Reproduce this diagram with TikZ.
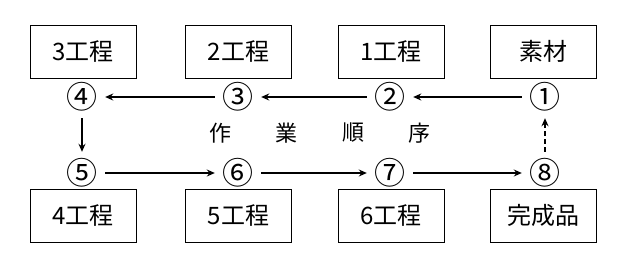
\documentclass[tikz,border=0pt]{standalone}
\usepackage{fontspec}
\setmainfont{Noto Sans CJK JP}
\usepackage{tikz}
\usetikzlibrary{arrows.meta,positioning}
\definecolor{ink}{RGB}{0,0,0}
\tikzset{
  >={Stealth[length=8pt,width=7pt]},
  proc/.style={draw=ink,line width=0.9pt,minimum width=106pt,minimum height=53pt,
    inner sep=0pt,font=\fontsize{24}{26}\selectfont},
  num/.style={minimum width=46pt,minimum height=42pt,inner sep=0pt,
    font=\fontsize{31}{34}\selectfont},
  flow/.style={->,line width=1.6pt,draw=ink},
  flow/.default=ink,
  word/.style={inner sep=0pt,font=\fontsize{22}{24}\selectfont},
}
\begin{document}
\begin{tikzpicture}[x=1pt,y=-1pt]
  \useasboundingbox (0,0) rectangle (629,274);
  % process boxes
  \node[proc] (p3) at (83,51.5) {3工程};
  \node[proc] (p2) at (238.5,51.5) {2工程};
  \node[proc] (p1) at (391,51.5) {1工程};
  \node[proc] (raw) at (543,51.5) {素材};
  \node[proc] (p4) at (83,215.5) {4工程};
  \node[proc] (p5) at (238.5,215.5) {5工程};
  \node[proc] (p6) at (391,216) {6工程};
  \node[proc] (done) at (543,215.5) {完成品};
  % order numbers
  \node[num] (n4) at (82,97) {④};
  \node[num] (n3) at (238,97) {③};
  \node[num] (n2) at (390,97) {②};
  \node[num] (n1) at (545,97) {①};
  \node[num] (n5) at (82,173) {⑤};
  \node[num] (n6) at (238,173) {⑥};
  \node[num] (n7) at (390,173) {⑦};
  \node[num] (n8) at (545,173) {⑧};
  % label
  \node[word] (w1) at (220,133) {作};
  \node[word] (w2) at (286,133) {業};
  \node[word] (w3) at (353,133) {順};
  \node[word] (w4) at (419,133) {序};
  % flow
  \draw[flow] (n1) -- (n2);
  \draw[flow] (n2) -- (n3);
  \draw[flow] (n3) -- (n4);
  \draw[flow] (n4) -- (n5);
  \draw[flow] (n5) -- (n6);
  \draw[flow] (n6) -- (n7);
  \draw[flow] (n7) -- (n8);
  \draw[flow,dash pattern=on 5pt off 3pt] (n8) -- (n1);
\end{tikzpicture}
\end{document}
